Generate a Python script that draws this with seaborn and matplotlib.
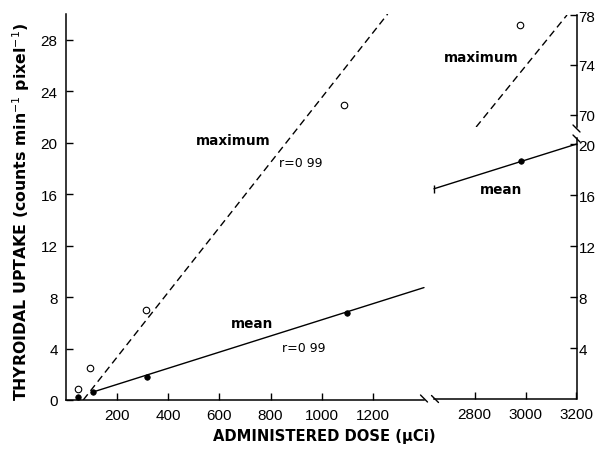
import numpy as np
import matplotlib
matplotlib.use("Agg")
import matplotlib.pyplot as plt
import seaborn as sns

# Administered dose (uCi) and thyroidal uptake per pixel
mean_dose = [48, 105, 318, 1100, 2982]
mean_uptake = [0.23, 0.60, 1.76, 6.74, 18.7]
max_dose = [46, 94, 313, 1087, 2977]
max_uptake = [0.88, 2.5, 6.98, 22.9, 77.2]

# Regression lines (slope, intercept) and their correlation coefficients
mean_fit = (0.00627, -0.04)
max_fit = (0.0252, -1.7)
r_label = "r=0 99"

left_xticks = [200, 400, 600, 800, 1000, 1200]
right_xticks = [2800, 3000, 3200]
left_yticks = [0, 4, 8, 12, 16, 20, 24, 28]
low_yticks = [4, 8, 12, 16, 20]
high_yticks = [70, 74, 78]

sns.set_style("ticks")
plt.rcParams["font.family"] = ["DejaVu Sans"]
for key in ("text.color", "axes.labelcolor", "xtick.color", "ytick.color",
            "axes.edgecolor"):
    plt.rcParams[key] = "black"
tick_font = ["Liberation Sans Narrow", "Liberation Sans", "DejaVu Sans"]

W, H = 596, 452
fig = plt.figure(figsize=(W / 100, H / 100), dpi=100)


def box(x0, y0, x1, y1):
    return [x0 / W, 1 - y1 / H, (x1 - x0) / W, (y1 - y0) / H]


ax = fig.add_axes(box(66, 15, 424, 401))
axl = fig.add_axes(box(434, 139, 576.5, 400))
axh = fig.add_axes(box(434, 16, 576.5, 128))

ax.set_xlim(0, 1400)
ax.set_ylim(0, 30)
axl.set_xlim(2640, 3200)
axl.set_ylim(0, 20.5)
axh.set_xlim(2640, 3200)
axh.set_ylim(69, 78)

lw_spine = 1.1
for a in (ax, axl, axh):
    a.set_facecolor("none")
    for s in a.spines.values():
        s.set_linewidth(lw_spine)
        s.set_color("black")
ax.spines[["top", "right"]].set_visible(False)
axl.spines[["top", "left"]].set_visible(False)
axh.spines[["top", "left", "bottom"]].set_visible(False)

# Fitted lines
def fit(p, x):
    return p[0] * np.asarray(x) + p[1]

dash = (0, (5.2, 3.2))
x0 = -max_fit[1] / max_fit[0]
x1 = (30 - max_fit[1]) / max_fit[0]
xs = np.linspace(x0, x1, 50)
ax.plot(xs, fit(max_fit, xs), color="black", lw=1.0, ls=dash)
xs = np.linspace(mean_dose[1], 1400, 50)
ax.plot(xs, fit(mean_fit, xs), color="black", lw=1.0, clip_on=False)

xs = np.linspace(2640, 3200, 50)
axl.plot(xs, fit(mean_fit, xs), color="black", lw=1.0, clip_on=False)
axl.plot([2640], fit(mean_fit, [2640]), marker="|", ms=6, mew=1.0,
         color="black", clip_on=False)
x0 = (69 - max_fit[1]) / max_fit[0]
x1 = (78 - max_fit[1]) / max_fit[0]
xs = np.linspace(x0, x1, 50)
axh.plot(xs, fit(max_fit, xs), color="black", lw=1.0, ls=dash)

# Data points
for a in (ax, axl, axh):
    sns.scatterplot(x=max_dose, y=max_uptake, ax=a, marker="o", s=22,
                    facecolor="white", edgecolor="black", linewidth=0.8,
                    zorder=5)
    sns.scatterplot(x=mean_dose, y=mean_uptake, ax=a, marker="o", s=16,
                    color="black", edgecolor="black", linewidth=0.5,
                    zorder=5)

# Ticks
tick_kw = dict(direction="in", length=5, width=1.0, labelsize=11,
               color="black", labelcolor="black")
ax.set_xticks(left_xticks)
ax.set_yticks(left_yticks)
ax.tick_params(axis="both", pad=6, **tick_kw)
axl.set_xticks(right_xticks)
axl.set_yticks(low_yticks)
axl.yaxis.tick_right()
axl.tick_params(axis="x", pad=6, **tick_kw)
axl.tick_params(axis="y", pad=1.5, **tick_kw)
axh.set_xticks([])
axh.set_yticks(high_yticks)
axh.yaxis.tick_right()
axh.tick_params(axis="y", pad=1.5, **tick_kw)
for a in (ax, axl, axh):
    for lab in a.get_xticklabels() + a.get_yticklabels():
        lab.set_fontfamily(tick_font)
    a.set_xlabel("")
    a.set_ylabel("")

# Axis break marks
def slash(cx, cy, dx=3.5, dy=3.5):
    fig.add_artist(plt.Line2D([(cx - dx) / W, (cx + dx) / W],
                              [1 - (cy - dy) / H, 1 - (cy + dy) / H],
                              color="black", lw=1.0))

slash(424, 399.5)
slash(435, 400)
slash(576.5, 129.5)
slash(576.5, 139.5)

# Annotations
lab_kw = dict(fontsize=9.8, fontweight="bold", color="black")
r_kw = dict(fontsize=9, color="black")
ax.text(506, 19.9, "maximum", **lab_kw)
ax.text(833, 18.2, r_label, **r_kw)
ax.text(643, 5.65, "mean", **lab_kw)
ax.text(846, 3.83, r_label, **r_kw)
axh.text(2679, 74.3, "maximum", **lab_kw)
axl.text(2822, 16.2, "mean", **lab_kw)

fig.text(324 / W, 1 - 437 / H, "ADMINISTERED DOSE (µCi)", ha="center",
         va="center", fontsize=10.6, fontweight="bold")
fig.text(21 / W, 1 - 212 / H,
         r"THYROIDAL UPTAKE (counts min$^{-1}$ pixel$^{-1}$)",
         rotation=90, ha="center", va="center", fontsize=11.3,
         fontweight="bold")

fig.savefig("out.png", dpi=100)
